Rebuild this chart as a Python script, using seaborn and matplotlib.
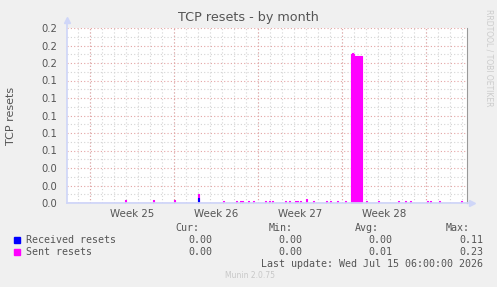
import numpy as np
import matplotlib
matplotlib.use("Agg")
import matplotlib.pyplot as plt
import seaborn as sns
from matplotlib.patches import Rectangle

sns.set_theme(style="white")
plt.rcParams['font.family'] = ['DejaVu Sans']

# --- data (days from left edge of graph, value in resets/s) ---
week_labels = ["Week 25", "Week 26", "Week 27", "Week 28"]
week_starts = [1.92, 8.92, 15.92, 22.92, 29.92]
span_days = 33.33

sent_days = [4.83, 7.17, 8.92, 10.88, 12.96, 14.08, 14.42, 14.58, 15.08, 15.5,
             16.5, 16.83, 17.08, 18.17, 18.5, 18.96, 19.17, 19.38, 19.9, 20.5,
             21.58, 21.88, 22.5, 23.17, 23.67, 23.75, 23.83, 23.92, 24.0,
             24.08, 24.17, 24.25, 24.33, 24.42, 24.5, 24.92, 25.92, 27.58, 28.17,
             28.58, 30.04, 30.25, 31.0, 32.83]
sent_vals = [0.003, 0.003, 0.003, 0.010, 0.002, 0.002, 0.002, 0.002, 0.002, 0.002,
             0.002, 0.002, 0.002, 0.002, 0.002, 0.002, 0.002, 0.002, 0.0045, 0.002,
             0.002, 0.0025, 0.002, 0.002, 0.170, 0.171, 0.170, 0.168, 0.168,
             0.168, 0.168, 0.168, 0.168, 0.168, 0.168, 0.002, 0.002, 0.002, 0.002,
             0.002, 0.002, 0.002, 0.002, 0.002]
recv_days = [10.88]
recv_vals = [0.006]

legend_rows = [
    ("Received resets", "#0000ff", ["0.00", "0.00", "0.00", "0.11"]),
    ("Sent resets", "#ff00ff", ["0.00", "0.00", "0.01", "0.23"]),
]
stat_heads = ["Cur:", "Min:", "Avg:", "Max:"]
last_update = "Last update: Wed Jul 15 06:00:00 2026"

# one sample per pixel (2 h)
t = np.arange(0, 400) / 12.0
def series(days, vals):
    y = np.zeros_like(t)
    for d, v in zip(days, vals):
        y[int(round(d * 12))] = v
    return y
sent = series(sent_days, sent_vals)
recv = series(recv_days, recv_vals)

W, H = 497, 287
fig = plt.figure(figsize=(W / 100, H / 100), dpi=100, facecolor="#f0f0f0")
ax = fig.add_axes([67 / W, 84 / H, 400 / W, 175 / H])
ax.set_facecolor("white")
ax.set_xlim(0, span_days)
ax.set_ylim(0, 0.2)

# grid
for d in np.arange(1, span_days, 1.0):
    ax.axvline(d - 0.08, color="#d4d4d4", lw=0.8, ls=(0, (1, 2)), zorder=0)
for y in np.arange(0.01, 0.2, 0.02):
    ax.axhline(y, color="#d4d4d4", lw=0.8, ls=(0, (1, 2)), zorder=0)
for y in np.arange(0.02, 0.201, 0.02):
    ax.axhline(y, color="#e4a4a4", lw=0.8, ls=(0, (1, 2)), zorder=0.5)
for d in week_starts:
    ax.axvline(d, color="#e4a4a4", lw=0.8, ls=(0, (1, 2)), zorder=0.5)

# series
for y, c in [(sent, "#ff00ff"), (recv, "#0000ff")]:
    ax.fill_between(t, y, step="mid", color=c, lw=0, zorder=2)
    sns.lineplot(x=t, y=y, ax=ax, color=c, lw=0.8, drawstyle="steps-mid", zorder=2)

# axes styling
ax.spines["top"].set_visible(False)
ax.spines["right"].set_color("#999999")
ax.spines["right"].set_linewidth(0.8)
ax.spines["left"].set_color("#cfd6f8")
ax.spines["bottom"].set_color("#cfd6f8")
ax.spines["left"].set_bounds(0, 0.207)
ax.spines["bottom"].set_bounds(0, span_days * 1.012)
ax.plot([0], [0.209], marker="^", ms=4, color="#cfd6f8", clip_on=False, zorder=5)
ax.plot([span_days * 1.013], [0], marker=">", ms=4, color="#cfd6f8", clip_on=False, zorder=5)

yt = np.arange(0, 0.201, 0.02)
ax.set_yticks(yt)
ax.set_yticklabels([f"{v:.1f}" for v in yt], fontsize=7.2, color="#555555")
ax.tick_params(axis="y", length=2, color="#cfd6f8", pad=5)
ax.set_xticks(week_starts)
ax.set_xticklabels([])
ax.tick_params(axis="x", which="major", length=3, color="#e4a4a4", direction="out")
ax.set_xticks([(a + b) / 2 for a, b in zip(week_starts[:-1], week_starts[1:])], minor=True)
ax.set_xticklabels(week_labels, minor=True, fontsize=7.4, color="#555555")
ax.tick_params(axis="x", which="minor", length=0, pad=4)
ax.set_xlabel("")
ax.set_ylabel("TCP resets", fontsize=8, color="#555555")
ax.yaxis.set_label_coords(-51 / 400, 0.5)

fig.text(248 / W, 1 - 18 / H, "TCP resets - by month", ha="center", va="center",
         fontsize=9.2, color="#555555")
fig.text(489 / W, 1 - 58 / H, "RRDTOOL / TOBI OETIKER", rotation=270, ha="center",
         va="center", fontsize=5.5, color="#cccccc")

# legend block
mono = dict(family="DejaVu Sans Mono", fontsize=7.2, color="#555555")
head_x = [199, 293, 379, 470]
val_x = [212, 302, 392, 483]
for h, x in zip(stat_heads, head_x):
    fig.text(x / W, 1 - 228 / H, h, ha="right", va="center", **mono)
for i, (name, c, vals) in enumerate(legend_rows):
    yp = 240 + 12 * i
    fig.patches.append(Rectangle((14 / W, 1 - (yp + 3) / H), 6 / W, 6 / H,
                                 transform=fig.transFigure, color=c))
    fig.text(26 / W, 1 - yp / H, name, ha="left", va="center", **mono)
    for v, x in zip(vals, val_x):
        fig.text(x / W, 1 - yp / H, v, ha="right", va="center", **mono)
fig.text(483 / W, 1 - 264 / H, last_update, ha="right", va="center", **mono)
fig.text(250 / W, 1 - 275 / H, "Munin 2.0.75", ha="center", va="center",
         fontsize=5.5, color="#c8c8c8")

fig.savefig("out.png", dpi=100, facecolor=fig.get_facecolor())
